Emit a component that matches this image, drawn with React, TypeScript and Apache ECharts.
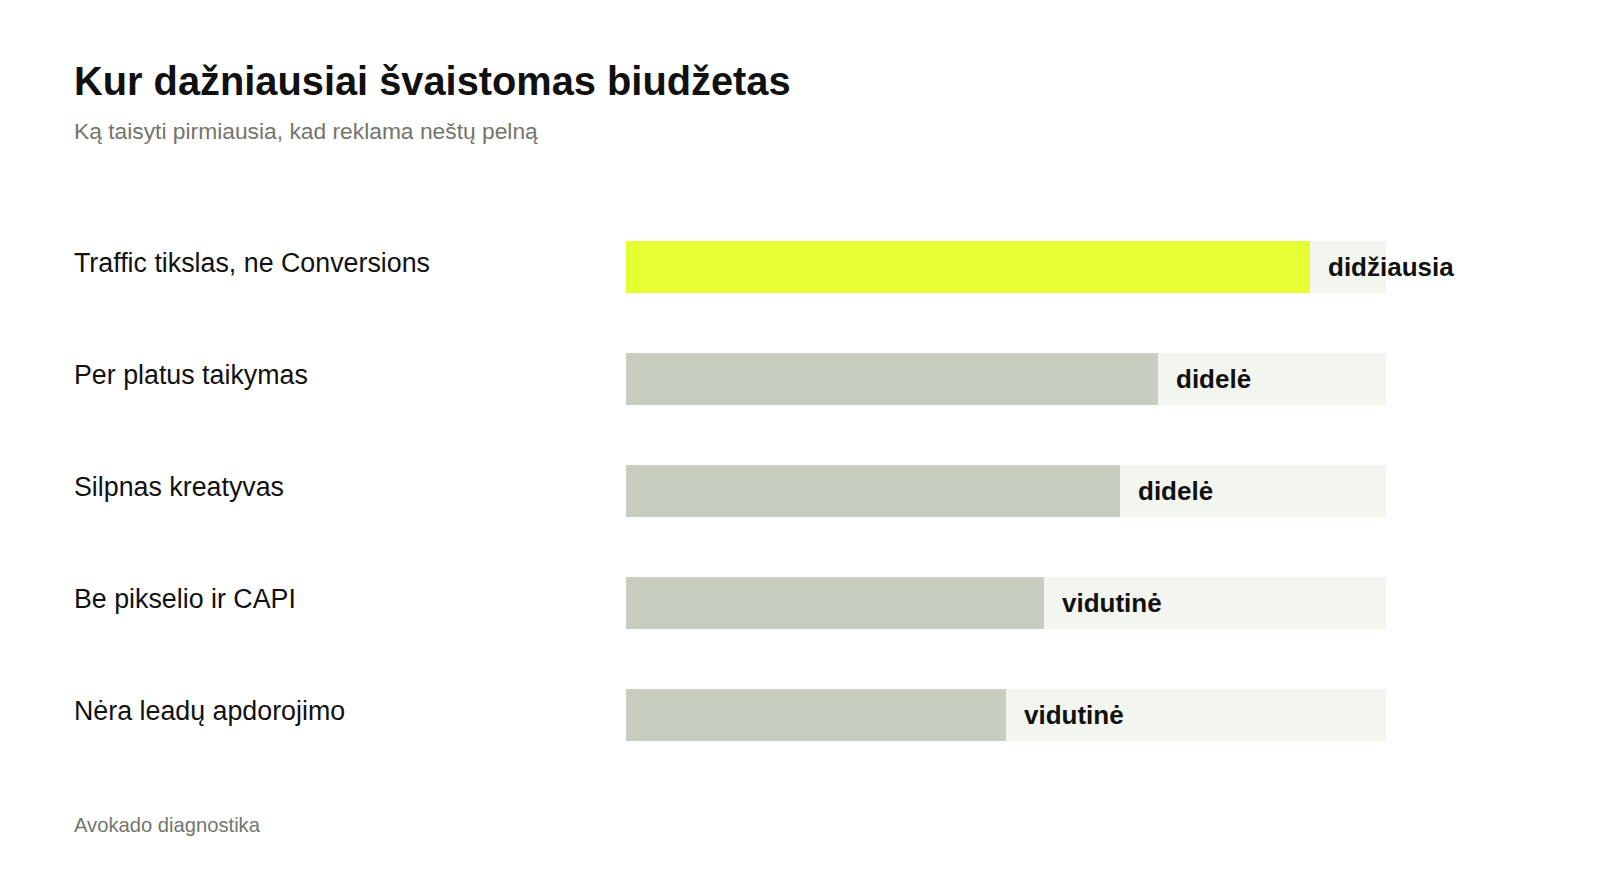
import React, { useEffect, useRef } from "react";
import * as echarts from "echarts";

const categories = [
  "Traffic tikslas, ne Conversions",
  "Per platus taikymas",
  "Silpnas kreatyvas",
  "Be pikselio ir CAPI",
  "Nėra leadų apdorojimo",
];
const values = [90, 70, 65, 55, 50];
const levelLabels = ["didžiausia", "didelė", "didelė", "vidutinė", "vidutinė"];
const highlightIndex = 0;
const maxValue = 100;

const titleText = "Kur dažniausiai švaistomas biudžetas";
const subtitleText = "Ką taisyti pirmiausia, kad reklama neštų pelną";
const footerText = "Avokado diagnostika";

const FONT = '"Liberation Sans", Arial, Helvetica, sans-serif';

export default function App() {
  const ref = useRef<HTMLDivElement>(null);
  useEffect(() => {
    if (!ref.current) return;
    const chart = echarts.init(ref.current, null, { renderer: "svg" });
    chart.setOption({
      animation: false,
      backgroundColor: "#ffffff",
      textStyle: { fontFamily: FONT },
      graphic: [
        {
          type: "text",
          left: 74,
          top: 61,
          style: {
            text: titleText,
            fontFamily: FONT,
            fontSize: 39.8,
            fontWeight: "bold",
            fill: "#111111",
          },
        },
        {
          type: "text",
          left: 74,
          top: 119,
          style: {
            text: subtitleText,
            fontFamily: FONT,
            fontSize: 22.8,
            fill: "#74756a",
          },
        },
        {
          type: "text",
          left: 74,
          top: 815,
          style: {
            text: footerText,
            fontFamily: FONT,
            fontSize: 20.2,
            fill: "#74756a",
          },
        },
      ],
      grid: { left: 626, right: 214, top: 211, bottom: 104, containLabel: false },
      xAxis: {
        type: "value",
        min: 0,
        max: maxValue,
        show: false,
      },
      yAxis: {
        type: "category",
        data: categories,
        inverse: true,
        axisLine: { show: false },
        axisTick: { show: false },
        splitLine: { show: false },
        axisLabel: {
          margin: 552,
          align: "left",
          verticalAlign: "bottom",
          lineHeight: 9,
          fontFamily: FONT,
          fontSize: 26.8,
          color: "#111111",
        },
      },
      series: [
        {
          type: "bar",
          barWidth: 52,
          data: values.map((v, i) => ({
            value: v,
            itemStyle: { color: i === highlightIndex ? "#e6ff33" : "#c8cebf" },
          })),
          showBackground: true,
          backgroundStyle: { color: "#f3f5ef" },
          label: {
            show: true,
            position: "right",
            distance: 18,
            fontFamily: FONT,
            fontSize: 26,
            fontWeight: "bold",
            color: "#111111",
            padding: [3, 0, 0, 0],
            formatter: (p: any) => levelLabels[p.dataIndex],
          },
        },
      ],
    });
    return () => chart.dispose();
  }, []);
  return (
    <div
      ref={ref}
      style={{ position: "fixed", left: 0, top: 0, width: 1600, height: 875 }}
    />
  );
}
